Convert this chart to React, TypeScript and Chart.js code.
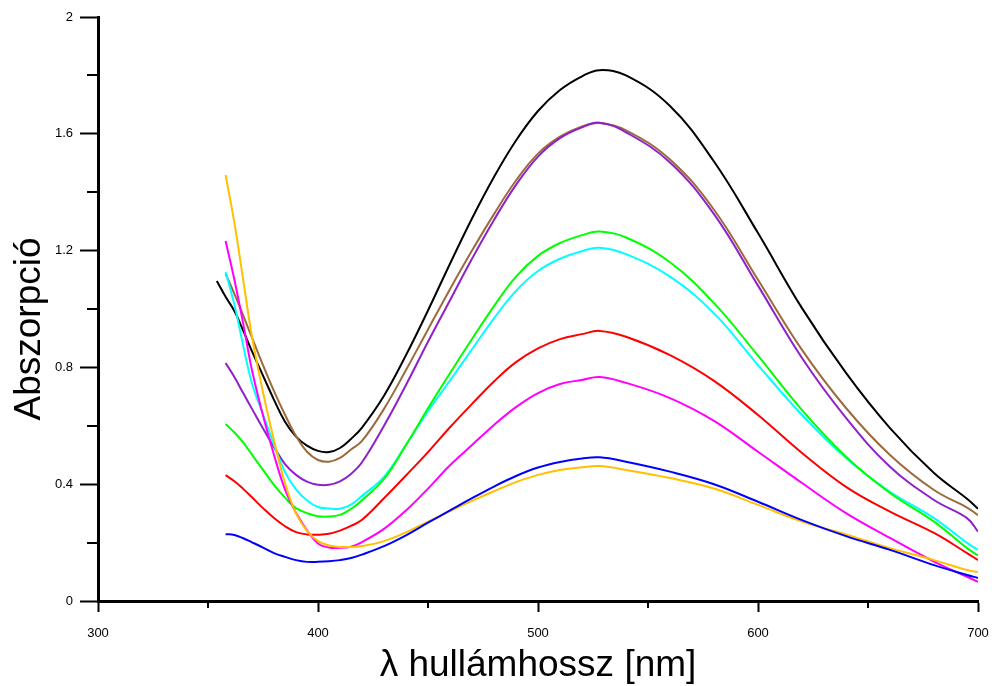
import React, { useEffect, useRef } from 'react';
import { Chart, registerables } from 'chart.js';

Chart.register(...registerables);

// Wavelength grid (nm)
const wavelength = [354, 358, 362, 366, 370, 375, 380, 385, 390, 395, 400, 405, 410, 415, 420, 430, 440, 450, 460, 470, 480, 490, 500, 510, 520, 528, 540, 560, 580, 600, 620, 640, 660, 680, 695, 700];

// Absorbance series (null = not measured)
const seriesBlack = [1.096, 1.042, 0.993, 0.926, 0.855, 0.772, 0.689, 0.614, 0.563, 0.532, 0.514, 0.51, 0.524, 0.555, 0.594, 0.703, 0.842, 0.995, 1.155, 1.31, 1.452, 1.577, 1.678, 1.75, 1.797, 1.818, 1.8, 1.695, 1.505, 1.26, 1.003, 0.781, 0.592, 0.438, 0.35, 0.316];
const seriesBrown = [null, 1.12, 1.052, 0.978, 0.902, 0.808, 0.719, 0.638, 0.565, 0.511, 0.483, 0.477, 0.49, 0.519, 0.548, 0.658, 0.791, 0.93, 1.068, 1.2, 1.325, 1.44, 1.532, 1.59, 1.625, 1.637, 1.612, 1.512, 1.34, 1.1, 0.86, 0.661, 0.5, 0.38, 0.32, 0.294];
const seriesPurple = [null, 0.815, 0.767, 0.712, 0.658, 0.591, 0.527, 0.469, 0.432, 0.409, 0.398, 0.398, 0.41, 0.435, 0.475, 0.6, 0.74, 0.888, 1.03, 1.172, 1.305, 1.425, 1.522, 1.585, 1.622, 1.638, 1.605, 1.502, 1.325, 1.08, 0.832, 0.627, 0.46, 0.346, 0.284, 0.238];
const seriesGreen = [null, 0.606, 0.577, 0.543, 0.501, 0.449, 0.398, 0.354, 0.318, 0.301, 0.29, 0.289, 0.295, 0.315, 0.345, 0.418, 0.534, 0.66, 0.78, 0.897, 1.01, 1.111, 1.182, 1.226, 1.253, 1.265, 1.245, 1.16, 1.02, 0.84, 0.654, 0.494, 0.37, 0.272, 0.181, 0.156];
const seriesCyan = [null, 1.127, 1.015, 0.875, 0.745, 0.64, 0.535, 0.442, 0.382, 0.344, 0.322, 0.317, 0.316, 0.33, 0.36, 0.425, 0.535, 0.65, 0.755, 0.862, 0.968, 1.062, 1.13, 1.172, 1.198, 1.21, 1.188, 1.111, 0.985, 0.808, 0.637, 0.49, 0.374, 0.284, 0.199, 0.175];
const seriesRed = [null, 0.431, 0.41, 0.384, 0.355, 0.318, 0.284, 0.256, 0.236, 0.228, 0.227, 0.23, 0.241, 0.257, 0.278, 0.352, 0.43, 0.51, 0.595, 0.675, 0.752, 0.818, 0.865, 0.897, 0.914, 0.925, 0.905, 0.842, 0.754, 0.637, 0.507, 0.391, 0.306, 0.233, 0.164, 0.14];
const seriesMagenta = [null, 1.233, 1.1, 0.95, 0.79, 0.635, 0.5, 0.382, 0.302, 0.242, 0.197, 0.183, 0.182, 0.186, 0.202, 0.247, 0.31, 0.385, 0.465, 0.534, 0.603, 0.664, 0.712, 0.743, 0.757, 0.767, 0.747, 0.695, 0.617, 0.511, 0.404, 0.301, 0.216, 0.135, 0.083, 0.066];
const seriesOrange = [null, 1.459, 1.295, 1.1, 0.905, 0.715, 0.55, 0.404, 0.3, 0.24, 0.205, 0.19, 0.185, 0.185, 0.188, 0.205, 0.235, 0.272, 0.308, 0.343, 0.376, 0.407, 0.432, 0.449, 0.458, 0.462, 0.449, 0.421, 0.385, 0.329, 0.272, 0.228, 0.181, 0.14, 0.106, 0.099];
const seriesBlue = [null, 0.229, 0.226, 0.215, 0.201, 0.183, 0.164, 0.151, 0.14, 0.134, 0.134, 0.136, 0.14, 0.147, 0.159, 0.188, 0.225, 0.268, 0.31, 0.352, 0.392, 0.428, 0.457, 0.476, 0.488, 0.492, 0.477, 0.443, 0.4, 0.34, 0.277, 0.222, 0.175, 0.123, 0.089, 0.079];

// Axis ticks
const xTicks = [300, 400, 500, 600, 700];
const xMinorTicks = [350, 450, 550, 650];
const yTicks = [0, 0.4, 0.8, 1.2, 1.6, 2];
const yMinorTicks = [0.2, 0.6, 1.0, 1.4, 1.8];

const xTitle = 'λ hullámhossz [nm]';
const yTitle = 'Abszorpció';

const FONT = '"Liberation Sans", Arial, sans-serif';

const seriesList = [
  { values: seriesBlue, color: '#0000ff' },
  { values: seriesOrange, color: '#ffc000' },
  { values: seriesMagenta, color: '#ff00ff' },
  { values: seriesRed, color: '#ff0000' },
  { values: seriesGreen, color: '#00ff00' },
  { values: seriesCyan, color: '#00ffff' },
  { values: seriesPurple, color: '#9020c8' },
  { values: seriesBrown, color: '#9c6b3c' },
  { values: seriesBlack, color: '#000000' },
];

const decorPlugin = {
  id: 'decor',
  afterDraw(chart: any) {
    const ctx = chart.ctx;
    const xs = chart.scales.x;
    const ys = chart.scales.y;
    const { left, bottom } = chart.chartArea;
    ctx.save();
    ctx.strokeStyle = '#000';
    ctx.lineWidth = 2;
    ctx.beginPath();
    for (const v of xMinorTicks) {
      const p = Math.round(xs.getPixelForValue(v));
      ctx.moveTo(p, bottom);
      ctx.lineTo(p, bottom + 7);
    }
    for (const v of yMinorTicks) {
      const p = Math.round(ys.getPixelForValue(v));
      ctx.moveTo(left - 11, p);
      ctx.lineTo(left, p);
    }
    ctx.stroke();
    ctx.translate(30, 329);
    ctx.rotate(-Math.PI / 2);
    ctx.font = '37px ' + FONT;
    ctx.fillStyle = '#000';
    ctx.textAlign = 'center';
    ctx.textBaseline = 'middle';
    ctx.fillText(yTitle, 0, 0);
    ctx.restore();
  },
};

export default function App() {
  const canvasRef = useRef<HTMLCanvasElement | null>(null);

  useEffect(() => {
    const canvas = canvasRef.current;
    if (!canvas) return;
    const datasets = seriesList.map((s) => ({
      data: wavelength
        .map((x, i) => ({ x, y: s.values[i] }))
        .filter((p) => p.y !== null && p.y !== undefined),
      borderColor: s.color,
      backgroundColor: s.color,
      borderWidth: 2,
      pointRadius: 0,
      tension: 0.4,
      fill: false,
    }));

    const chart = new Chart(canvas, {
      type: 'line',
      data: { datasets },
      plugins: [decorPlugin],
      options: {
        animation: false,
        responsive: false,
        devicePixelRatio: 1,
        layout: { padding: { top: 17, right: 14, left: 0, bottom: 0 } },
        plugins: { legend: { display: false }, tooltip: { enabled: false } },
        scales: {
          x: {
            type: 'linear',
            min: 300,
            max: 700,
            afterBuildTicks: (scale: any) => {
              scale.ticks = xTicks.map((v) => ({ value: v }));
            },
            afterFit: (scale: any) => {
              scale.height = 85;
              scale.paddingLeft = 0;
              scale.paddingRight = 0;
            },
            ticks: {
              color: '#000',
              font: { size: 13, family: FONT },
              padding: 14,
              maxRotation: 0,
              callback: (v: any) => String(v),
            },
            grid: {
              display: true,
              drawOnChartArea: false,
              drawTicks: true,
              tickLength: 11,
              tickWidth: 2,
              tickColor: '#000',
              color: '#000',
            },
            border: { display: true, color: '#000', width: 3 },
            title: {
              display: true,
              text: xTitle,
              color: '#000',
              font: { size: 37, family: FONT, lineHeight: 1 },
              padding: { top: 0, bottom: 2 },
            },
          },
          y: {
            type: 'linear',
            min: 0,
            max: 2,
            afterBuildTicks: (scale: any) => {
              scale.ticks = yTicks.map((v) => ({ value: v }));
            },
            afterFit: (scale: any) => {
              scale.width = 98;
              scale.paddingTop = 0;
              scale.paddingBottom = 0;
            },
            ticks: {
              color: '#000',
              font: { size: 13, family: FONT },
              padding: 7,
              callback: (v: any) => String(Math.round(Number(v) * 10) / 10),
            },
            grid: {
              display: true,
              drawOnChartArea: false,
              drawTicks: true,
              tickLength: 18,
              tickWidth: 2,
              tickColor: '#000',
              color: '#000',
            },
            border: { display: true, color: '#000', width: 3 },
          },
        },
      },
    });
    return () => chart.destroy();
  }, []);

  return (
    <div style={{ position: 'fixed', left: 0, top: 0, width: 992, height: 686, background: '#fff' }}>
      <canvas ref={canvasRef} width={992} height={686} style={{ display: 'block' }} />
    </div>
  );
}
